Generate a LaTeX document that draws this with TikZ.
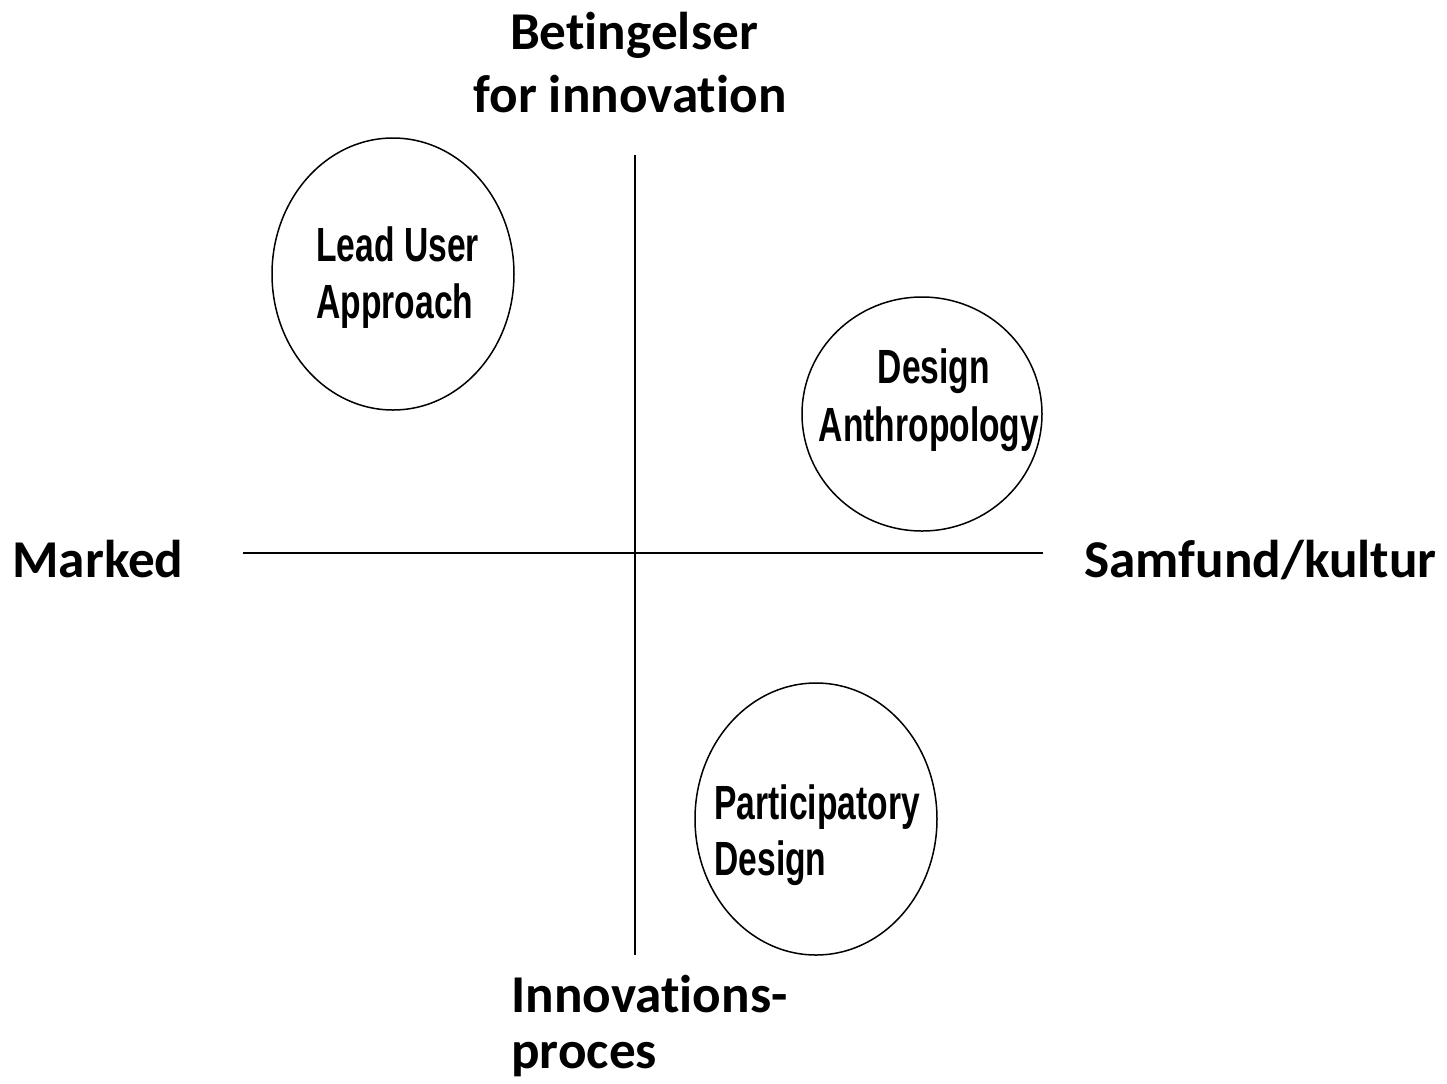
\documentclass[tikz,border=0pt]{standalone}
\usepackage{fontspec}
\setmainfont[Ligatures=NoCommon]{Carlito}
\newfontfamily\narrowfont[FakeStretch=0.7]{Liberation Sans}
\usetikzlibrary{positioning}
\begin{document}
\begin{tikzpicture}[
    x=0.5pt, y=-0.5pt,
    axislabel/.style={font=\fontsize{26.6}{31.5}\selectfont\bfseries, inner sep=0pt},
    methodlabel/.style={font=\narrowfont\fontsize{24}{28.5}\selectfont\bfseries, inner sep=0pt},
    method/.style={draw=black, line width=0.75pt},
    axis/.style={draw=black, line width=0.75pt}
]
\useasboundingbox (0,0) rectangle (1447,1083);

% axes
\coordinate (top) at (635,155);
\coordinate (bottom) at (635,955);
\coordinate (left) at (243,553);
\coordinate (right) at (1043,553);
\draw[axis] (top) -- (bottom);
\draw[axis] (left) -- (right);

% axis labels
\node[axislabel, anchor=base] (betingelser) at (634,49) {Betingelser};
\node[axislabel, anchor=base] (forinnov) at (630,112) {for innovation};
\node[axislabel, anchor=base west] (marked) at (12,577) {Marked};
\node[axislabel, anchor=base east] (samfund) at (1437,577) {Samfund/kultur};
\node[axislabel, anchor=base west] (innov) at (511,1012) {Innovations-};
\node[axislabel, anchor=base west] (proces) at (511,1068) {proces};

% methods
\draw[method] (393,274) ellipse (121 and 136);
\node[methodlabel, anchor=base west] (lead) at (316,261) {Lead User};
\node[methodlabel, anchor=base west] (approach) at (316,318) {Approach};

\draw[method] (922,414) ellipse (120 and 117);
\node[methodlabel, anchor=base] (design) at (934,383) {Design};
\node[methodlabel, anchor=base] (anthro) at (929,441) {Anthropology};

\draw[method] (816,819) ellipse (121 and 136);
\node[methodlabel, anchor=base west] (partic) at (714,819) {Participatory};
\node[methodlabel, anchor=base west] (pdesign) at (714,875) {Design};

\end{tikzpicture}
\end{document}
